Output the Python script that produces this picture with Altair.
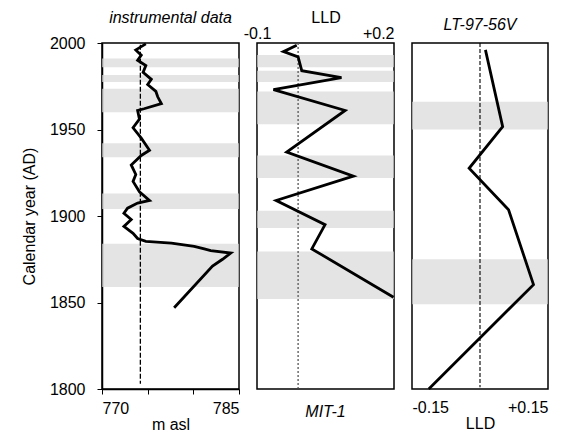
import altair as alt
import pandas as pd

# ---------------- data ----------------
instr_year = [1999.5, 1996, 1993, 1990, 1987, 1983, 1979, 1976, 1972, 1968.9, 1965,
              1962, 1961, 1956, 1951, 1945, 1938, 1935, 1929.5, 1924, 1920, 1914,
              1909, 1907.5, 1904.5, 1901.6, 1898, 1894, 1890, 1887, 1885.3, 1884.3,
              1882.4, 1881, 1880, 1878.6, 1875, 1871, 1847]
instr_level = [774.8, 773.7, 774.3, 773.9, 774.8, 774.5, 775.4, 775.0, 775.9, 776.1, 776.5,
               774.6, 773.9, 774.1, 773.4, 774.3, 775.2, 774.3, 773.2, 773.7, 773.4, 774.1,
               775.2, 773.9, 772.8, 772.4, 773.2, 772.4, 773.4, 773.9, 774.8, 777.6,
               780.1, 781.2, 781.9, 784.1, 783.2, 782.1, 777.9]

mit_year = [1998.7, 1995, 1992, 1984, 1980, 1973, 1961, 1937, 1923, 1909, 1895, 1881, 1853]
mit_lld = [-0.013, -0.042, -0.010, -0.002, 0.085, -0.064, 0.093, -0.035, 0.111, -0.058,
           0.049, 0.020, 0.199]

lt_year = [1996, 1951.6, 1927.6, 1903.6, 1860.3, 1800]
lt_lld = [0.012, 0.05, -0.024, 0.063, 0.118, -0.113]

# grey stippled bands (upper year, lower year) per panel
bands1_top = [1991, 1981.5, 1973.5, 1942, 1913, 1884]
bands1_bot = [1986, 1977.5, 1960, 1934, 1904, 1859]
bands2_top = [1993, 1984, 1972, 1935, 1903, 1879.5]
bands2_bot = [1986, 1977.5, 1953, 1922, 1893, 1852]
bands3_top = [1966, 1875]
bands3_bot = [1950, 1849]

year_ticks = [1800, 1850, 1900, 1950, 2000]

FONT = "Liberation Sans"
W1, W2, W3, H = 137, 137, 136, 346
YDOM = [1800, 2000]
BAND_COLOR = "#d9d9d9"

ys = alt.Scale(domain=YDOM, nice=False)
yaxis1 = alt.Axis(values=year_ticks, format="d", title="Calendar year (AD)",
                  grid=False, tickSize=5, labelPadding=12, titlePadding=12)


def panel(df_line, bands_top, bands_bot, ref_val, ref_a, ref_b, xscale, xaxis, yaxis,
          width, ref_color, ref_width, ref_dash):
    bands = pd.DataFrame({"val": [xscale.domain[0]] * len(bands_top),
                          "year": bands_top, "year2": bands_bot})
    ref = pd.DataFrame({"val": [ref_val], "year": [ref_a], "year2": [ref_b]})
    xenc = alt.X("val:Q", scale=xscale, axis=xaxis)
    yenc = alt.Y("year:Q", scale=ys, axis=yaxis)
    band_l = alt.Chart(bands).mark_rect(color=BAND_COLOR, opacity=0.7).encode(
        y=yenc, y2="year2:Q", x=alt.value(0), x2=alt.value(width))
    ref_l = alt.Chart(ref).mark_rule(color=ref_color, strokeWidth=ref_width,
                                     strokeDash=ref_dash).encode(
        x=xenc, y=yenc, y2="year2:Q")
    line_l = alt.Chart(df_line).mark_line(color="black", strokeWidth=2.8).encode(
        x=xenc, y=yenc, order="i:Q")
    return alt.layer(band_l, ref_l, line_l)


# ---------------- panel 1 ----------------
df1 = pd.DataFrame({"year": instr_year, "val": instr_level, "i": list(range(len(instr_year)))})
xs1 = alt.Scale(domain=[770, 785], nice=False)
xaxis1 = alt.Axis(values=[770, 775, 780, 785], title="m asl",
                  labelExpr="(datum.value == 770 || datum.value == 785) ? datum.label : ''",
                  grid=False, tickSize=5, labelPadding=6, titlePadding=0)
p1 = panel(df1, bands1_top, bands1_bot, 774.2, 1999, 1803, xs1, xaxis1, yaxis1, W1,
           "black", 1.3, [5, 2]).properties(
    width=W1, height=H,
    title=alt.TitleParams("instrumental data", fontStyle="italic", fontSize=16,
                          font=FONT, fontWeight="normal", offset=9, color="black"),
)

# ---------------- panel 2 ----------------
df2 = pd.DataFrame({"year": mit_year, "val": mit_lld, "i": list(range(len(mit_year)))})
xs2 = alt.Scale(domain=[-0.1, 0.2], nice=False)
xaxis2 = alt.Axis(orient="top", values=[-0.1, 0.2], title="LLD",
                  labelExpr="datum.value < 0 ? '-0.1' : '+0.2'",
                  labelAlign=alt.expr("datum.value < 0 ? 'center' : 'right'"),
                  grid=False, ticks=False, domain=False, labelPadding=2, titlePadding=0)
p2 = panel(df2, bands2_top, bands2_bot, -0.01, 2000, 1800.5, xs2, xaxis2, None, W2,
           "#555555", 1.3, [2, 2]).properties(
    width=W2, height=H,
    title=alt.TitleParams("MIT-1", orient="bottom", fontStyle="italic", fontSize=16,
                          font=FONT, fontWeight="normal", offset=15, color="black"),
)

# ---------------- panel 3 ----------------
df3 = pd.DataFrame({"year": lt_year, "val": lt_lld, "i": list(range(len(lt_year)))})
xs3 = alt.Scale(domain=[-0.15, 0.15], nice=False)
xaxis3 = alt.Axis(values=[-0.15, 0.15], title="LLD",
                  labelExpr="datum.value < 0 ? '-0.15' : '+0.15'",
                  grid=False, ticks=False, domain=False, labelPadding=10, titlePadding=0)
p3 = panel(df3, bands3_top, bands3_bot, 0.0, 2000, 1801, xs3, xaxis3, None, W3,
           "black", 1.1, [4, 2]).properties(
    width=W3, height=H,
    title=alt.TitleParams("LT-97-56V", fontStyle="italic", fontSize=16,
                          font=FONT, fontWeight="normal", offset=9, color="black"),
)

chart = alt.hconcat(p1, p2, p3, spacing=18, bounds="flush").properties(
    background="white", padding={"left": 12, "top": 0, "right": 0, "bottom": 0}
).configure_view(
    stroke="black", strokeWidth=1.5
).configure_axis(
    labelFont=FONT, titleFont=FONT, labelFontSize=16, titleFontSize=16,
    titleFontWeight="normal", labelColor="black", titleColor="black",
    domainColor="black", tickColor="black", domainWidth=1.5,
)

chart.save("out.html", embed_options={"renderer": "svg", "actions": False})
